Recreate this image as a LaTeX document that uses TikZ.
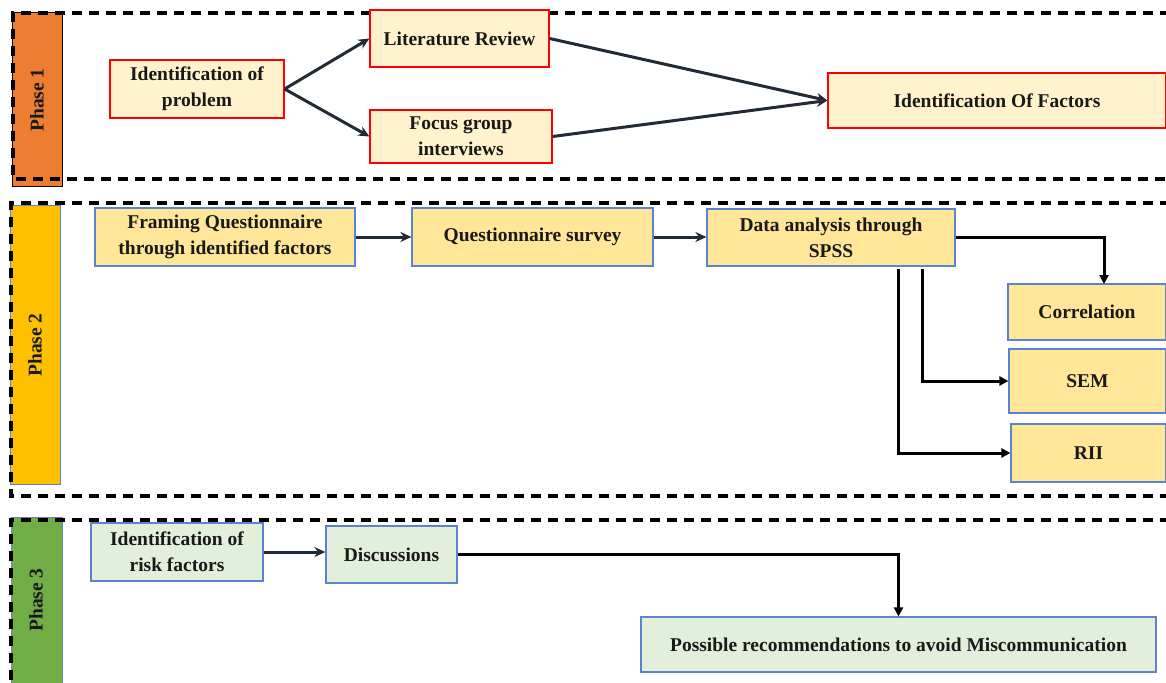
\documentclass[tikz,border=0pt]{standalone}
\usepackage{fontspec}
\setmainfont{Liberation Serif}
\usetikzlibrary{arrows.meta,positioning,calc}
\definecolor{pOneFill}{HTML}{FFF2CC}
\definecolor{pTwoFill}{HTML}{FFE699}
\definecolor{pThreeFill}{HTML}{E2EFDA}
\definecolor{boxBlue}{HTML}{5B84D0}
\definecolor{barOrange}{HTML}{ED7D31}
\definecolor{barYellow}{HTML}{FFC000}
\definecolor{barGreen}{HTML}{70AD47}
\definecolor{arrDark}{HTML}{222A35}
\tikzset{
  basebox/.style={draw, line width=1.2pt, inner sep=2pt, align=center,
    font=\bfseries\fontsize{19.5}{26}\selectfont, text=black!90},
  redbox/.style={basebox, draw=red, fill=pOneFill},
  yelbox/.style={basebox, draw=boxBlue, fill=pTwoFill},
  grnbox/.style={basebox, draw=boxBlue, fill=pThreeFill},
  phasedash/.style={line width=3.5pt, dash pattern=on 10pt off 7pt, black},
  darkarrow/.style={line width=3pt, draw=arrDark, -{Stealth[length=11pt,width=10pt]}},
  blackarrow/.style={line width=3pt, draw=black, -{Triangle[length=9pt,width=9pt]}},
  phaselabel/.style={rotate=90, font=\bfseries\fontsize{19.5}{22}\selectfont, text=black!90},
}
\begin{document}
\begin{tikzpicture}[x=1pt,y=-1pt]
\useasboundingbox (0,0) rectangle (1166,682);
\fill[white] (0,0) rectangle (1166,682);

% phase bars
\filldraw[fill=barOrange, draw=black, line width=1pt] (12,13) rectangle (62,186);
\filldraw[fill=barYellow, draw=boxBlue, line width=1pt] (10,205) rectangle (60,484);
\filldraw[fill=barGreen, draw=boxBlue, line width=1pt] (11,517) rectangle (62,690);
\node[phaselabel] (ph1) at (37,100) {Phase 1};
\node[phaselabel] (ph2) at (35,345) {Phase 2};
\node[phaselabel] (ph3) at (36,600) {Phase 3};

% dashed phase frames
\draw[phasedash] (1170,13) -- (13,13) -- (13,179) -- (1170,179);
\draw[phasedash] (1170,203) -- (11,203) -- (11,496) -- (1170,496);
\draw[phasedash] (1170,520) -- (11,520) -- (11,690);

% Phase 1 nodes
\node[redbox, minimum width=174pt, minimum height=58pt] (prob) at (197,89) {Identification of\\problem};
\node[redbox, minimum width=179pt, minimum height=57pt] (lit) at (459.5,38.5) {Literature Review};
\node[redbox, minimum width=182pt, minimum height=53pt] (focus) at (461,136.5) {Focus group\\interviews};
\node[redbox, minimum width=338pt, minimum height=55pt] (fact) at (997,100.5) {Identification Of Factors};

% Phase 2 nodes
\node[yelbox, minimum width=260pt, minimum height=58pt] (frame) at (225,237) {Framing Questionnaire\\through identified factors};
\node[yelbox, minimum width=241pt, minimum height=58pt] (qs) at (532.5,237) {Questionnaire survey};
\node[yelbox, minimum width=248pt, minimum height=57pt] (data) at (831,237.5) {Data analysis through\\SPSS};
\node[yelbox, minimum width=158pt, minimum height=56pt] (corr) at (1087,312) {Correlation};
\node[yelbox, minimum width=157pt, minimum height=64pt] (sem) at (1087.5,381) {SEM};
\node[yelbox, minimum width=155pt, minimum height=58pt] (rii) at (1088.5,453) {RII};

% Phase 3 nodes
\node[grnbox, minimum width=172pt, minimum height=58pt] (risk) at (177,552) {Identification of\\risk factors};
\node[grnbox, minimum width=131pt, minimum height=57pt] (disc) at (391.5,554.5) {Discussions};
\node[grnbox, minimum width=515pt, minimum height=55pt] (rec) at (898.5,644.5) {Possible recommendations to avoid Miscommunication};

% Phase 1 arrows
\draw[darkarrow] (prob.east) -- (lit.west);
\draw[darkarrow] (prob.east) -- (focus.west);
\draw[darkarrow] (lit.east) -- (fact.west);
\draw[darkarrow] (focus.east) -- (fact.west);

% Phase 2 arrows
\draw[darkarrow] (frame.east) -- (frame.east -| qs.west);
\draw[darkarrow] (qs.east) -- (qs.east -| data.west);
\coordinate (corrIn) at (1104,284);
\coordinate (semOut) at (922,269);
\coordinate (riiOut) at (898,269);
\draw[blackarrow] (data.east) -| (corrIn);
\draw[blackarrow] (semOut) |- (sem.west);
\draw[blackarrow] (riiOut) |- (rii.west);

% Phase 3 arrows
\draw[darkarrow] (risk.east) -- (risk.east -| disc.west);
\draw[blackarrow] (disc.east) -| (rec.north);
\end{tikzpicture}
\end{document}
